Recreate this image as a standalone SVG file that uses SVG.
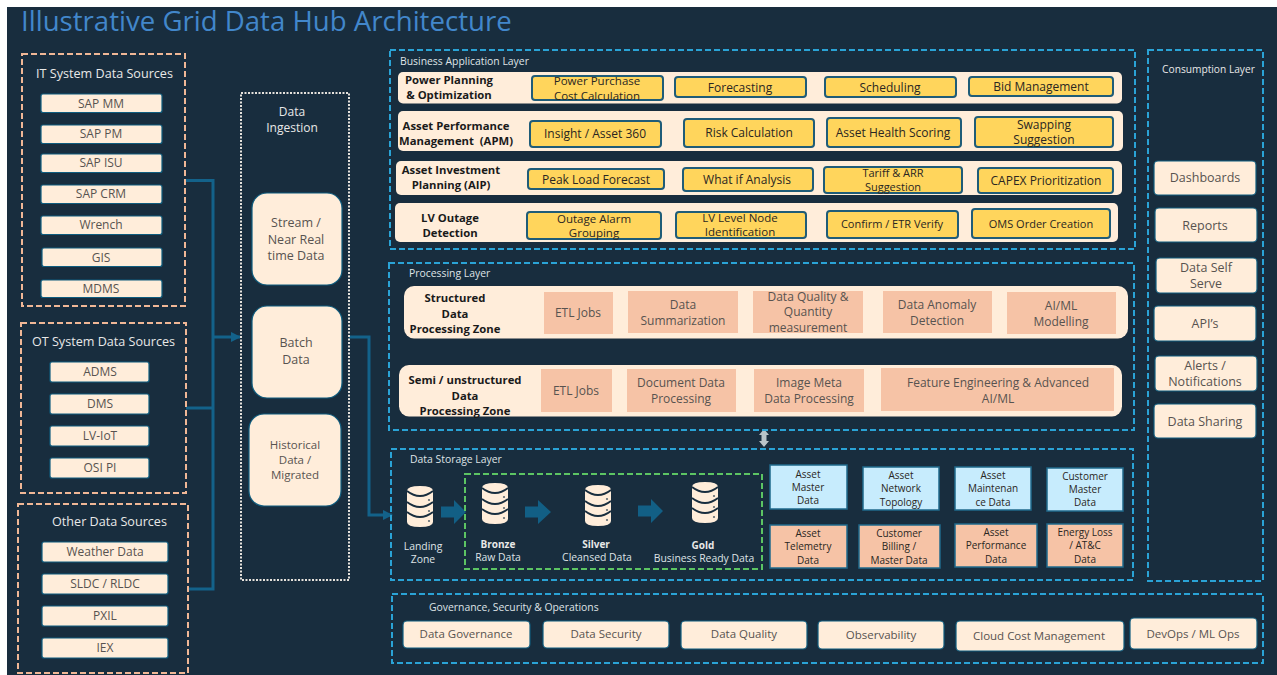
<svg xmlns="http://www.w3.org/2000/svg" width="1277" height="675" viewBox="0 0 1277 675">
<defs>
<style>
text{font-family:"Open Sans","Noto Sans","DejaVu Sans",sans-serif;text-anchor:middle;font-size:12px}
.lt{fill:#e8e8e8}
.dk{fill:#585350}
.bk{fill:#2a2622}
.bd{fill:#1a1a1a;font-weight:700;font-size:11.300px}
.hd{fill:#e8e8e8;font-size:12.600px}
.ll{fill:#dfe3e6;text-anchor:start;font-size:10.400px}
.t10{font-size:10px}
.t11{font-size:11.500px}
.t125{font-size:12.500px}
.cream{fill:#ffedda;stroke:#0f5d7f;stroke-width:1.200}
.card{fill:#ffedda}
.yl{fill:#ffd55c;stroke:#1f5c78;stroke-width:2}
.sal{fill:#f6c3a6}
.blu{fill:#c7ecfd;stroke:#1f6a8c;stroke-width:1.500}
.org{fill:#f6c3a6;stroke:#1f6a8c;stroke-width:1.500}
.dash-o{fill:none;stroke:#f0b796;stroke-width:2;stroke-dasharray:6 3}
.dash-b{fill:none;stroke:#2aa3d6;stroke-width:2;stroke-dasharray:6 3}
.dash-g{fill:none;stroke:#5cc463;stroke-width:2;stroke-dasharray:6 3}
.dot{fill:none;stroke:#e6e2dc;stroke-width:2;stroke-dasharray:2 1.500}
.con{fill:none;stroke:#13628a;stroke-width:3}
.fat{fill:#125f85}
.db{fill:#ffedda}
.dbl{fill:none;stroke:#182d3e;stroke-width:1.800}
</style>
<marker id="ah" viewBox="0 0 10 10" refX="9" refY="5" markerWidth="3.500" markerHeight="3.500" orient="auto"><path d="M0 0L10 5L0 10z" fill="#13628a"/></marker>
<g id="cyl">
<path class="db" d="M-13 0Q-13-5 0-5Q13-5 13 0V31Q13 36 0 36Q-13 36-13 31z"/>
<path class="dbl" d="M-13 0Q0 10 13 0M-13 11Q0 21 13 11M-13 21Q0 31 13 21"/>
<circle cx="9" cy="9" r="1.100" fill="#5d6a72"/><circle cx="9" cy="20" r="1.100" fill="#5d6a72"/><circle cx="9" cy="30" r="1.100" fill="#5d6a72"/>
</g>
</defs>
<rect width="1277" height="675" fill="#fff"/>
<rect x="7" y="7" width="1270" height="668" fill="#182d3e"/>
<text x="21" y="31" style="font-size:27.600px;text-anchor:start;fill:#4287cb">Illustrative Grid Data Hub Architecture</text>

<g id="connectors">
<path class="con" d="M186 180.500H213V589H188"/>
<path class="con" d="M186 408H213"/>
<path class="con" d="M213 337H240" marker-end="url(#ah)"/>
<path class="con" d="M349 337H369V515H392" marker-end="url(#ah)"/>
<path class="fat" d="M441 506.500H454V500L466 512L454 524V517.500H441z"/>
<path class="fat" d="M525 506.500H538V500L551 512L538 524V517.500H525z"/>
<path class="fat" d="M638 505.500H651V499L663 511L651 523V516.500H638z"/>
<path d="M764 429L769 435H766.500V441L769 441L764 447L759 441L761.500 441V435H759z" fill="#b9c4c9"/>
</g>

<g id="it-sources">
<rect x="22" y="54" width="163" height="252" class="dash-o"/>
<text x="104.500" y="78" class="hd">IT System Data Sources</text>
<g id="sap-mm"><rect x="41" y="94" width="121" height="18.500" rx="2" class="cream"/><text x="101" y="108" class="dk">SAP MM</text></g>
<g id="sap-pm"><rect x="41" y="125" width="121" height="18.500" rx="2" class="cream"/><text x="101" y="138" class="dk">SAP PM</text></g>
<g id="sap-isu"><rect x="41" y="154" width="121" height="18.500" rx="2" class="cream"/><text x="101" y="167" class="dk">SAP ISU</text></g>
<g id="sap-crm"><rect x="41" y="185" width="121" height="18.500" rx="2" class="cream"/><text x="101" y="198" class="dk">SAP CRM</text></g>
<g id="wrench"><rect x="41" y="216" width="121" height="18.500" rx="2" class="cream"/><text x="101" y="229" class="dk">Wrench</text></g>
<g id="gis"><rect x="42" y="248" width="120" height="18.500" rx="2" class="cream"/><text x="101" y="262" class="dk">GIS</text></g>
<g id="mdms"><rect x="41" y="280" width="121" height="17.500" rx="2" class="cream"/><text x="101" y="293" class="dk">MDMS</text></g>
</g>

<g id="ot-sources">
<rect x="21" y="323" width="165" height="170" class="dash-o"/>
<text x="103.500" y="346" class="hd">OT System Data Sources</text>
<g id="adms"><rect x="50" y="362" width="99" height="20" rx="2" class="cream"/><text x="100" y="376" class="dk">ADMS</text></g>
<g id="dms"><rect x="50" y="394" width="99" height="20" rx="2" class="cream"/><text x="100" y="408" class="dk">DMS</text></g>
<g id="lv-iot"><rect x="50" y="426" width="99" height="20" rx="2" class="cream"/><text x="100" y="440" class="dk">LV-IoT</text></g>
<g id="osi-pi"><rect x="50" y="458" width="99" height="20" rx="2" class="cream"/><text x="100" y="472" class="dk">OSI PI</text></g>
</g>

<g id="other-sources">
<rect x="18" y="504" width="170" height="169" class="dash-o"/>
<text x="109.500" y="526" class="hd">Other Data Sources</text>
<g id="weather"><rect x="42" y="542" width="126" height="20" rx="2" class="cream"/><text x="105" y="556" class="dk">Weather Data</text></g>
<g id="sldc"><rect x="42" y="574" width="126" height="20" rx="2" class="cream"/><text x="105" y="588" class="dk">SLDC / RLDC</text></g>
<g id="pxil"><rect x="42" y="606" width="126" height="20" rx="2" class="cream"/><text x="105" y="620" class="dk">PXIL</text></g>
<g id="iex"><rect x="42" y="638" width="126" height="20" rx="2" class="cream"/><text x="105" y="652" class="dk">IEX</text></g>
</g>

<g id="ingestion">
<rect x="241" y="93" width="108" height="487" class="dot"/>
<text x="292" y="116" class="lt">Data</text><text x="292" y="132" class="lt">Ingestion</text>
<g id="stream"><rect x="252" y="193" width="90" height="92" rx="15" class="cream"/><text x="296" y="227" class="dk t125">Stream /</text><text x="296" y="244" class="dk t125">Near Real</text><text x="296" y="260" class="dk t125">time Data</text></g>
<g id="batch"><rect x="252" y="306" width="90" height="92" rx="15" class="cream"/><text x="296" y="347" class="dk t125">Batch</text><text x="296" y="364" class="dk t125">Data</text></g>
<g id="historical"><rect x="249" y="414" width="92" height="92" rx="15" class="cream"/><text x="295" y="449" class="dk t11">Historical</text><text x="295" y="464" class="dk t11">Data /</text><text x="295" y="479" class="dk t11">Migrated</text></g>
</g>

<g id="business-layer">
<rect x="390" y="50" width="745" height="199" class="dash-b"/>
<text x="400" y="65" class="ll">Business Application Layer</text>
<g id="row-power"><rect x="398" y="72" width="724" height="31.500" rx="5" class="card"/>
<text x="449" y="84" class="bd">Power Planning</text><text x="449" y="99" class="bd">&amp; Optimization</text>
<rect x="532" y="76" width="131" height="24" rx="3" class="yl"/><text x="597" y="85" class="bk t11">Power Purchase</text><text x="597" y="100" class="bk t11">Cost Calculation</text>
<rect x="675" y="77" width="131" height="20" rx="3" class="yl"/><text x="740" y="92" class="bk">Forecasting</text>
<rect x="825" y="77" width="131" height="20" rx="3" class="yl"/><text x="890" y="92" class="bk">Scheduling</text>
<rect x="969" y="77" width="144" height="19" rx="3" class="yl"/><text x="1041" y="91" class="bk">Bid Management</text></g>
<g id="row-apm"><rect x="398" y="111" width="725" height="40" rx="5" class="card"/>
<text x="456" y="130" class="bd">Asset Performance</text><text x="456" y="145" class="bd" xml:space="preserve">Management  (APM)</text>
<rect x="530" y="121" width="131" height="26" rx="3" class="yl"/><text x="595" y="138" class="bk">Insight / Asset 360</text>
<rect x="684" y="119" width="130" height="28" rx="3" class="yl"/><text x="749" y="137" class="bk">Risk Calculation</text>
<rect x="827" y="118" width="134" height="29" rx="3" class="yl"/><text x="893" y="137" class="bk">Asset Health Scoring</text>
<rect x="975" y="117" width="138" height="30" rx="3" class="yl"/><text x="1044" y="129" class="bk">Swapping</text><text x="1044" y="144" class="bk">Suggestion</text></g>
<g id="row-aip"><rect x="396" y="161" width="726" height="34" rx="5" class="card"/>
<text x="451" y="174" class="bd">Asset Investment</text><text x="451" y="189" class="bd">Planning (AIP)</text>
<rect x="528" y="169" width="136" height="20" rx="3" class="yl"/><text x="596" y="184" class="bk">Peak Load Forecast</text>
<rect x="683" y="168" width="130" height="23" rx="3" class="yl"/><text x="747" y="184" class="bk">What if Analysis</text>
<rect x="824" y="167" width="138" height="26" rx="3" class="yl"/><text x="893" y="177" style="font-size:11px" class="bk">Tariff &amp; ARR</text><text x="893" y="191" style="font-size:11px" class="bk">Suggestion</text>
<rect x="978" y="168" width="135" height="25" rx="3" class="yl"/><text x="1046" y="185" class="bk">CAPEX Prioritization</text></g>
<g id="row-lv"><rect x="395" y="203" width="723" height="39" rx="5" class="card"/>
<text x="450" y="222" class="bd">LV Outage</text><text x="450" y="237" class="bd">Detection</text>
<rect x="527" y="212" width="134" height="27" rx="3" class="yl"/><text x="594" y="223" class="bk t11">Outage Alarm</text><text x="594" y="237" class="bk t11">Grouping</text>
<rect x="676" y="212" width="130" height="26" rx="3" class="yl"/><text x="740" y="222" class="bk t11">LV Level Node</text><text x="740" y="236" class="bk t11">Identification</text>
<rect x="827" y="211" width="131" height="27" rx="3" class="yl"/><text x="892" y="228" style="font-size:11px" class="bk">Confirm / ETR Verify</text>
<rect x="972" y="209" width="138" height="29" rx="3" class="yl"/><text x="1041" y="228" style="font-size:11px" class="bk">OMS Order Creation</text></g>
</g>

<g id="processing-layer">
<rect x="389" y="263" width="745" height="167" class="dash-b"/>
<text x="409" y="277" class="ll">Processing Layer</text>
<g id="zone-structured"><rect x="404" y="286" width="724" height="52.500" rx="10" class="card"/>
<text x="455" y="302" class="bd">Structured</text><text x="455" y="318" class="bd">Data</text><text x="455" y="333" class="bd">Processing Zone</text>
<rect x="544" y="292" width="69" height="42" class="sal"/><text x="578" y="317" class="dk">ETL Jobs</text>
<rect x="628" y="291" width="110" height="42" class="sal"/><text x="683" y="309" class="dk">Data</text><text x="683" y="325" class="dk">Summarization</text>
<rect x="753" y="291" width="110" height="42" class="sal"/><text x="808" y="301" class="dk">Data Quality &amp;</text><text x="808" y="316" class="dk">Quantity</text><text x="808" y="332" class="dk">measurement</text>
<rect x="883" y="291" width="109" height="42" class="sal"/><text x="937" y="309" class="dk">Data Anomaly</text><text x="937" y="325" class="dk">Detection</text>
<rect x="1007" y="292" width="109" height="42" class="sal"/><text x="1061" y="310" class="dk">AI/ML</text><text x="1061" y="326" class="dk">Modelling</text></g>
<g id="zone-semi"><rect x="399" y="365" width="723" height="51.500" rx="10" class="card"/>
<text x="465" y="384" class="bd">Semi / unstructured</text><text x="465" y="400" class="bd">Data</text><text x="465" y="415" class="bd">Processing Zone</text>
<rect x="541" y="369" width="71" height="43" class="sal"/><text x="576" y="395" class="dk">ETL Jobs</text>
<rect x="627" y="369" width="109" height="43" class="sal"/><text x="681" y="387" class="dk">Document Data</text><text x="681" y="403" class="dk">Processing</text>
<rect x="754" y="369" width="110" height="43" class="sal"/><text x="809" y="387" class="dk">Image Meta</text><text x="809" y="403" class="dk">Data Processing</text>
<rect x="881" y="368" width="233" height="43" class="sal"/><text x="998" y="387" class="dk">Feature Engineering &amp; Advanced</text><text x="998" y="403" class="dk">AI/ML</text></g>
</g>

<g id="storage-layer">
<rect x="391" y="449" width="742" height="131" class="dash-b"/>
<text x="410" y="463" class="ll">Data Storage Layer</text>
<rect x="465" y="474" width="297" height="95" class="dash-g"/>
<g id="landing"><use href="#cyl" x="420" y="491"/><text x="423" y="550" class="ll" style="text-anchor:middle">Landing</text><text x="423" y="563" class="ll" style="text-anchor:middle">Zone</text></g>
<g id="bronze"><use href="#cyl" x="495" y="488"/><text x="498" y="548" class="lt t10" style="font-weight:700">Bronze</text><text x="498" y="561" class="ll" style="text-anchor:middle">Raw Data</text></g>
<g id="silver"><use href="#cyl" x="598" y="490"/><text x="596" y="548" class="lt t10" style="font-weight:700">Silver</text><text x="597" y="561" class="ll" style="text-anchor:middle">Cleansed Data</text></g>
<g id="gold"><use href="#cyl" x="705" y="487"/><text x="703" y="549" class="lt t10" style="font-weight:700">Gold</text><text x="704" y="562" class="ll" style="text-anchor:middle">Business Ready Data</text></g>
<g id="asset-master"><rect x="770" y="465" width="77" height="44" class="blu"/><text x="808" y="478" class="bk t10">Asset</text><text x="808" y="491" class="bk t10">Master</text><text x="808" y="504" class="bk t10">Data</text></g>
<g id="asset-network"><rect x="863" y="467" width="76" height="43" class="blu"/><text x="901" y="479" class="bk t10">Asset</text><text x="901" y="492" class="bk t10">Network</text><text x="901" y="506" class="bk t10">Topology</text></g>
<g id="asset-maint"><rect x="955" y="467" width="76" height="43" class="blu"/><text x="993" y="479" class="bk t10">Asset</text><text x="993" y="492" class="bk t10">Maintenan</text><text x="993" y="506" class="bk t10">ce Data</text></g>
<g id="customer-master"><rect x="1047" y="468" width="76" height="43" class="blu"/><text x="1085" y="480" class="bk t10">Customer</text><text x="1085" y="493" class="bk t10">Master</text><text x="1085" y="506" class="bk t10">Data</text></g>
<g id="asset-telemetry"><rect x="770" y="525" width="77" height="43" class="org"/><text x="808" y="537" class="bk t10">Asset</text><text x="808" y="550" class="bk t10">Telemetry</text><text x="808" y="564" class="bk t10">Data</text></g>
<g id="customer-billing"><rect x="859" y="525" width="81" height="43" class="org"/><text x="899" y="537" class="bk t10">Customer</text><text x="899" y="550" class="bk t10">Billing /</text><text x="899" y="564" class="bk t10">Master Data</text></g>
<g id="asset-performance"><rect x="955" y="524" width="82" height="43" class="org"/><text x="996" y="536" class="bk t10">Asset</text><text x="996" y="549" class="bk t10">Performance</text><text x="996" y="563" class="bk t10">Data</text></g>
<g id="energy-loss"><rect x="1047" y="524" width="76" height="43" class="org"/><text x="1085" y="536" class="bk t10">Energy Loss</text><text x="1085" y="549" class="bk t10">/ AT&amp;C</text><text x="1085" y="563" class="bk t10">Data</text></g>
</g>

<g id="governance-layer">
<rect x="392" y="594" width="871" height="69" class="dash-b"/>
<text x="429" y="611" class="ll">Governance, Security &amp; Operations</text>
<g id="gov"><rect x="403" y="621" width="127" height="27" rx="4" class="cream"/><text x="466" y="638" class="dk t11">Data Governance</text></g>
<g id="sec"><rect x="543" y="621" width="126" height="27" rx="4" class="cream"/><text x="606" y="638" class="dk t11">Data Security</text></g>
<g id="qual"><rect x="681" y="621" width="126" height="28" rx="4" class="cream"/><text x="744" y="638" class="dk t11">Data Quality</text></g>
<g id="obs"><rect x="818" y="621" width="126" height="28" rx="4" class="cream"/><text x="881" y="639" class="dk t11">Observability</text></g>
<g id="cost"><rect x="956" y="621" width="168" height="30" rx="4" class="cream"/><text x="1039" y="640" class="dk t11">Cloud Cost Management</text></g>
<g id="devops"><rect x="1130" y="618" width="127" height="31" rx="4" class="cream"/><text x="1193" y="638" class="dk t11">DevOps / ML Ops</text></g>
</g>

<g id="consumption-layer">
<rect x="1148" y="50" width="115" height="531" class="dash-b"/>
<text x="1208.500" y="73" class="lt" style="font-size:10.200px">Consumption Layer</text>
<g id="dash"><rect x="1154" y="161" width="102" height="34" rx="4" class="cream"/><text x="1205" y="182" class="dk t125">Dashboards</text></g>
<g id="reports"><rect x="1155" y="208" width="102" height="34" rx="4" class="cream"/><text x="1205" y="230" class="dk t125">Reports</text></g>
<g id="self"><rect x="1156" y="258" width="101" height="35" rx="4" class="cream"/><text x="1206" y="272" class="dk t125">Data Self</text><text x="1206" y="288" class="dk t125">Serve</text></g>
<g id="api"><rect x="1154" y="306" width="102" height="35" rx="4" class="cream"/><text x="1205" y="328" class="dk t125">API’s</text></g>
<g id="alerts"><rect x="1155" y="356" width="102" height="35" rx="4" class="cream"/><text x="1205" y="370" class="dk t125">Alerts /</text><text x="1205" y="386" class="dk t125">Notifications</text></g>
<g id="sharing"><rect x="1154" y="404" width="102" height="34" rx="4" class="cream"/><text x="1205" y="426" class="dk t125">Data Sharing</text></g>
</g>
</svg>
